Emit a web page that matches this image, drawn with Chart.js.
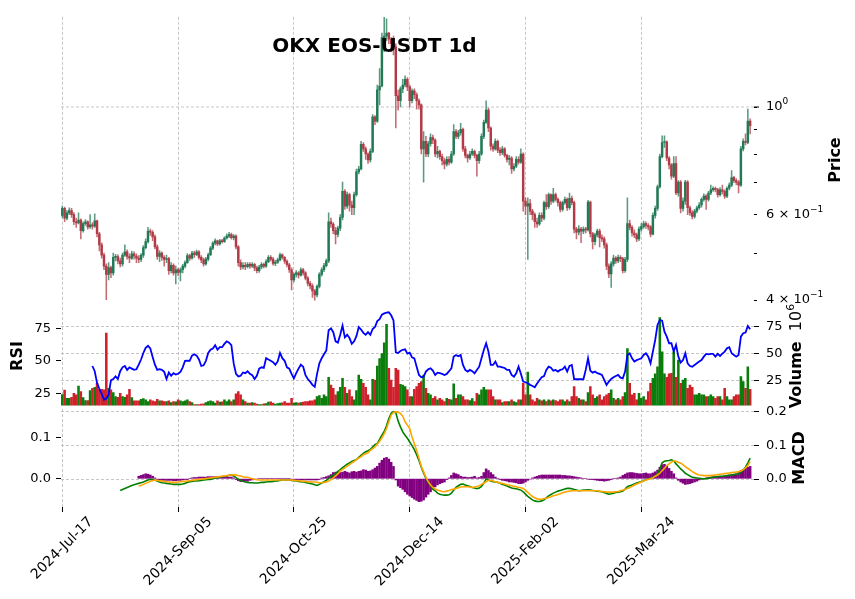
<!DOCTYPE html>
<html>
<head>
<meta charset="utf-8">
<style>
  html, body { margin: 0; padding: 0; background: #fff; }
  #wrap { position: relative; width: 855px; height: 599px; }
  #wrap canvas { position: absolute; left: 0; top: 0; }
</style>
</head>
<body>
<div id="wrap">
  <canvas id="priceChart" width="855" height="599"></canvas>
  <canvas id="volChart" width="855" height="599"></canvas>
  <canvas id="macdChart" width="855" height="599"></canvas>
</div>
<script src="https://cdn.jsdelivr.net/npm/chart.js@4.4.1/dist/chart.umd.min.js"></script>
<script>
// ---- data ----
const startDay = '2024-07-17';
const monthNames = ['Jan','Feb','Mar','Apr','May','Jun','Jul','Aug','Sep','Oct','Nov','Dec'];
const xTickIndex = [0, 50, 100, 150, 200, 250];
const priceTicks = [0.4, 0.5, 0.6, 0.7, 0.8, 0.9, 1];
// tick text as [base, superscript]
const priceTickText = { '0.4': ['4 \u00d7 10', '\u22121'], '0.6': ['6 \u00d7 10', '\u22121'], '1': ['10', '0'] };
const rsiTicks = [25, 50, 75];
const volTicks = [25, 50, 75];
const macdTicks = [0, 0.1, 0.2];
const histTicks = [0, 0.1];

const firstOpen = 0.598;
const closes = [
  .618,.590,.605,.612,.600,.580,.577,.585,.556,.575,
  .580,.566,.572,.568,.583,.548,.520,.495,.470,.452,
  .467,.455,.490,.492,.482,.475,.495,.503,.492,.488,
  .498,.493,.488,.485,.495,.513,.528,.555,.552,.540,
  .515,.492,.500,.490,.485,.487,.460,.472,.455,.462,
  .456,.462,.470,.478,.494,.488,.500,.496,.503,.490,
  .484,.475,.486,.496,.512,.524,.530,.522,.530,.528,
  .537,.542,.546,.538,.542,.515,.478,.468,.472,.469,
  .474,.470,.474,.466,.460,.468,.474,.470,.480,.490,
  .486,.476,.479,.484,.496,.490,.481,.473,.462,.440,
  .452,.455,.450,.462,.455,.444,.433,.428,.418,.410,
  .427,.452,.462,.471,.482,.580,.574,.556,.546,.563,
  .592,.670,.625,.660,.628,.620,.660,.735,.745,.838,
  .820,.800,.778,.810,.955,.935,1.085,1.105,1.390,1.400,
  1.420,1.380,1.350,1.330,1.055,1.030,1.090,1.110,1.140,1.100,
  1.030,1.080,1.060,1.030,1.010,.820,.850,.800,.840,.865,
  .855,.800,.810,.790,.775,.762,.780,.770,.800,.890,
  .870,.885,.900,.820,.795,.785,.800,.810,.795,.775,
  .800,.870,.930,.985,.905,.830,.820,.850,.815,.805,
  .820,.795,.780,.785,.745,.755,.780,.770,.800,.640,
  .625,.632,.610,.600,.580,.574,.598,.590,.635,.623,
  .660,.640,.660,.645,.635,.615,.635,.645,.620,.648,
  .635,.560,.552,.560,.555,.560,.558,.637,.548,.528,
  .545,.555,.538,.535,.520,.470,.453,.475,.488,.482,
  .490,.487,.460,.485,.575,.565,.550,.545,.535,.560,
  .567,.575,.570,.566,.547,.598,.618,.685,.790,.845,
  .848,.785,.760,.720,.765,.665,.700,.618,.640,.700,
  .620,.605,.595,.610,.620,.628,.645,.655,.645,.665,
  .675,.680,.676,.660,.675,.670,.655,.680,.690,.715,
  .705,.700,.690,.820,.850,.845,.935,.915
];
const highs = [
  .625,.622,.612,.620,.618,.606,.590,.605,.588,.580,
  .586,.583,.600,.578,.602,.585,.552,.525,.500,.475,
  .478,.470,.500,.497,.496,.488,.500,.520,.508,.498,
  .505,.503,.498,.494,.499,.518,.535,.565,.560,.556,
  .545,.520,.506,.503,.494,.495,.490,.478,.475,.470,
  .465,.466,.474,.482,.499,.497,.504,.505,.507,.506,
  .494,.488,.490,.500,.516,.528,.535,.532,.534,.534,
  .540,.548,.552,.550,.546,.545,.518,.484,.478,.478,
  .478,.478,.478,.476,.470,.472,.478,.477,.485,.494,
  .494,.490,.483,.488,.500,.498,.492,.484,.476,.466,
  .455,.460,.458,.466,.465,.458,.447,.437,.432,.421,
  .430,.456,.466,.476,.486,.605,.590,.578,.565,.568,
  .600,.700,.676,.668,.665,.640,.668,.745,.755,.850,
  .845,.828,.805,.820,.965,.960,1.110,1.200,1.420,1.530,
  1.520,1.425,1.390,1.400,1.350,1.083,1.100,1.140,1.160,1.150,
  1.110,1.090,1.090,1.070,1.040,1.015,.890,.870,.850,.880,
  .875,.860,.830,.815,.800,.785,.790,.790,.810,.920,
  .900,.895,.925,.905,.830,.800,.810,.820,.815,.800,
  .810,.880,.940,1.030,.995,.910,.840,.860,.855,.825,
  .830,.825,.800,.795,.790,.765,.790,.790,.820,.805,
  .650,.650,.645,.615,.605,.590,.605,.605,.640,.660,
  .665,.662,.680,.665,.650,.640,.640,.652,.650,.665,
  .655,.640,.565,.570,.565,.566,.565,.642,.640,.552,
  .550,.560,.560,.545,.540,.525,.475,.480,.495,.492,
  .495,.494,.490,.490,.650,.585,.570,.558,.550,.566,
  .575,.582,.580,.575,.570,.605,.625,.690,.800,.872,
  .872,.852,.790,.765,.790,.790,.705,.705,.650,.706,
  .705,.625,.612,.615,.625,.635,.650,.662,.660,.670,
  .690,.685,.684,.680,.682,.690,.675,.685,.698,.740,
  .720,.712,.705,.830,.860,.880,.990,.945
];
const lows = [
  .592,.580,.585,.600,.592,.572,.565,.574,.535,.552,
  .570,.560,.562,.560,.565,.540,.505,.488,.462,.401,
  .440,.445,.450,.482,.475,.468,.470,.492,.486,.478,
  .485,.486,.478,.478,.480,.490,.510,.524,.544,.530,
  .510,.485,.480,.483,.470,.478,.452,.455,.450,.432,
  .449,.438,.455,.466,.476,.483,.486,.490,.494,.486,
  .478,.470,.472,.482,.494,.508,.520,.518,.519,.524,
  .526,.534,.538,.534,.532,.510,.470,.462,.464,.462,
  .466,.465,.467,.460,.455,.456,.464,.466,.467,.478,
  .482,.472,.471,.476,.482,.486,.476,.468,.456,.420,
  .436,.446,.444,.448,.450,.440,.428,.422,.405,.400,
  .406,.424,.448,.458,.468,.478,.565,.548,.522,.540,
  .556,.585,.615,.618,.610,.600,.600,.655,.728,.742,
  .810,.780,.765,.770,.805,.920,.930,1.010,1.100,1.300,
  1.370,1.350,1.300,1.280,.905,.985,1.000,1.070,1.100,1.080,
  1.000,1.020,1.040,.990,.990,.800,.700,.790,.790,.830,
  .840,.790,.785,.780,.760,.745,.755,.760,.765,.795,
  .860,.860,.875,.810,.785,.770,.780,.795,.785,.720,
  .765,.795,.860,.925,.890,.815,.810,.815,.805,.795,
  .798,.788,.770,.760,.730,.738,.750,.762,.765,.610,
  .600,.485,.600,.585,.565,.565,.570,.580,.585,.615,
  .618,.630,.635,.640,.625,.608,.610,.630,.612,.615,
  .628,.550,.535,.545,.525,.548,.550,.555,.540,.510,
  .520,.540,.515,.528,.512,.462,.445,.425,.470,.476,
  .478,.480,.455,.456,.480,.558,.542,.538,.528,.530,
  .555,.562,.562,.558,.540,.545,.590,.612,.680,.785,
  .825,.775,.745,.710,.715,.660,.655,.605,.610,.630,
  .600,.598,.588,.590,.605,.615,.622,.640,.615,.640,
  .660,.670,.668,.652,.655,.662,.648,.650,.675,.685,
  .698,.692,.665,.686,.812,.835,.840,.880
];
// volume in units of 10^6
const volumes = [
  12.6,16.6,9.1,9.1,10.0,13.7,12.2,20.4,15.2,9.7,
  7.0,7.0,16.2,18.3,19.2,22.9,17.4,17.4,16.8,69.2,
  18.3,16.8,14.3,10.6,10.0,13.7,10.6,10.0,12.2,17.4,
  9.7,6.7,6.7,6.7,8.2,8.9,7.6,6.1,7.6,6.7,
  6.1,8.2,6.7,6.7,6.1,6.1,6.7,5.2,6.1,5.8,
  7.6,6.7,6.1,6.7,7.6,6.1,5.2,3.4,3.4,3.4,
  3.7,4.0,5.2,6.1,6.7,6.1,4.6,6.7,5.5,5.8,
  7.6,6.1,7.6,6.1,7.6,13.1,15.2,12.2,7.6,6.1,
  4.6,4.6,5.2,4.6,3.7,3.4,3.4,4.0,4.3,5.5,
  5.8,4.6,3.7,4.3,4.6,4.9,6.1,4.6,4.6,9.1,
  4.6,5.2,4.6,5.2,5.5,6.1,6.1,6.7,6.7,7.6,
  10.6,11.6,9.1,12.2,10.6,28.4,21.3,18.3,12.2,15.2,
  19.2,27.5,19.2,13.7,16.8,10.6,7.6,16.2,30.5,26.6,
  22.9,19.2,12.2,7.6,26.6,25.9,38.7,45.7,50.3,60.1,
  77.2,36.6,25.9,19.2,36.6,35.1,22.0,21.3,19.8,16.8,
  10.6,10.6,17.4,19.8,22.9,24.4,30.5,18.3,13.7,12.2,
  9.1,10.6,7.6,9.1,7.6,6.1,9.1,8.2,7.6,22.3,
  9.1,12.2,12.2,10.6,7.6,7.6,7.0,8.9,6.1,13.7,
  12.2,16.8,19.2,16.8,16.8,16.8,10.6,7.6,7.6,7.6,
  5.2,6.1,6.1,6.1,7.6,6.1,5.2,7.6,7.6,22.9,
  12.2,33.2,12.2,7.6,6.1,9.1,7.6,6.7,7.6,6.1,
  7.6,6.7,7.6,7.0,6.1,7.6,7.6,6.1,7.6,6.1,
  10.6,19.8,10.6,9.1,7.6,7.6,6.1,14.3,19.8,12.2,
  9.1,10.6,12.2,7.6,10.6,12.2,13.7,16.8,9.1,7.6,
  9.1,7.6,10.6,14.3,54.9,22.9,12.2,13.7,7.6,13.7,
  9.1,10.6,7.6,15.2,22.9,27.5,31.5,38.1,83.3,51.9,
  31.5,28.4,31.5,32.0,51.9,28.4,44.2,22.9,25.9,27.5,
  18.3,21.3,19.2,12.2,12.2,13.7,12.2,12.2,10.6,10.6,
  12.2,10.6,9.1,10.6,10.6,7.6,18.3,10.6,7.6,7.6,
  10.6,12.2,12.2,29.0,24.4,18.3,38.1,17.4
];
const rsi = [
  null,null,null,null,null,null,null,null,null,null,
  null,null,null,46,42,33,28.5,24.5,20,21,
  24,35,36,38,36,42,45,46,43,45,
  44,43,43.5,47,51,56,60,61.5,59.5,53,
  47,43,43.5,43,41.5,36,41,38.5,40.5,39.5,
  40,41.5,45,50,50.2,50,54,55,54,51,
  46,46.5,50,56,58.5,59.5,62,58.5,60.5,60.5,
  63,65,64,62,48,40,38,38.5,41,40.5,
  42,40,39,36,38.5,44,45,44.5,52,51,
  50,49,47,49.5,56,52,50,45,44,40,
  36.5,40.5,44,47,45.5,39,36,34,31.5,30,
  40,48,52,55,58,73.5,75,72,65,64,
  70,77,68,70,67.5,63,65,69,76,74,
  71.5,70,72,70,74.5,76,80.5,82,85.5,86.5,
  87,87.3,85,81,56.5,56,57.5,58.5,58.8,55.5,
  56.3,52.7,51.9,45.5,39.1,37.3,37.8,41.7,43.5,44.2,
  42.5,39.1,40.9,40.5,39.9,39.1,39.9,42,44.2,53.2,
  54.5,53.5,54.5,46.8,43,41.7,43,42,40.4,43,
  45.5,51.9,58.3,63.5,57.1,46.8,46.8,49.4,45.5,45.5,
  45,44.5,43,43,39.1,37.8,40.4,45.5,40,34,
  33.5,32.7,31.5,30.6,29.6,32.5,35,37.3,38.3,43,
  45.5,44.7,42.4,43,41.7,43,43.5,45.5,41.7,46,
  46.8,35.8,35.8,35.8,35.8,35.8,43,51.9,42.4,40.9,
  41.7,40.5,39.9,39.1,35.3,31.4,34,36,37.3,38.3,
  39.1,37,36.5,41.7,54.5,55.8,51.9,49.4,50.5,51.2,
  51.9,54.5,55.8,53.2,48.1,57.1,66,77.6,81.4,80.9,
  72.4,68.6,63.5,63.5,57.1,62.2,53.2,48.6,50.6,55.8,
  48.1,46,45.5,46.8,48.1,49.4,50.6,53.2,55.3,55,
  55.3,55.3,53.2,55.3,53.7,55.5,57.1,59.6,60.4,55.8,
  54.5,53.2,54.5,68.6,71.2,71.7,76.8,74.2
];
const macd = [
  null,null,null,null,null,null,null,null,null,null,
  null,null,null,null,null,null,null,null,null,null,
  null,null,null,null,null,-0.034,-0.031,-0.028,-0.025,-0.022,
  -0.019,-0.017,-0.015,-0.013,-0.011,-0.009,-0.006,-0.003,-0.001,-0.002,
  -0.003,-0.006,-0.009,-0.011,-0.012,-0.013,-0.014,-0.015,-0.016,-0.016,
  -0.016,-0.016,-0.015,-0.013,-0.010,-0.008,-0.007,-0.006,-0.006,-0.005,
  -0.004,-0.003,-0.002,-0.001,-0.001,0.001,0.003,0.004,0.005,0.007,
  0.008,0.009,0.011,0.012,0.009,0.004,-0.001,-0.004,-0.007,-0.009,
  -0.010,-0.011,-0.011,-0.012,-0.012,-0.011,-0.010,-0.010,-0.009,-0.008,
  -0.008,-0.007,-0.006,-0.006,-0.004,-0.003,-0.003,-0.003,-0.003,-0.004,
  -0.005,-0.006,-0.007,-0.008,-0.009,-0.010,-0.012,-0.013,-0.015,-0.017,
  -0.019,-0.016,-0.012,-0.008,-0.004,0.002,0.007,0.011,0.016,0.023,
  0.028,0.034,0.039,0.044,0.048,0.052,0.055,0.058,0.064,0.070,
  0.076,0.081,0.084,0.088,0.095,0.102,0.106,0.118,0.130,0.141,
  0.158,0.180,0.195,0.200,0.197,0.172,0.155,0.140,0.130,0.121,
  0.110,0.099,0.087,0.072,0.055,0.035,0.018,0.002,-0.010,-0.020,
  -0.030,-0.035,-0.042,-0.045,-0.047,-0.048,-0.048,-0.047,-0.042,-0.033,
  -0.025,-0.020,-0.016,-0.015,-0.018,-0.020,-0.022,-0.025,-0.027,-0.029,
  -0.027,-0.022,-0.012,0.000,-0.002,-0.006,-0.008,-0.009,-0.010,-0.013,
  -0.016,-0.018,-0.021,-0.024,-0.027,-0.028,-0.029,-0.031,-0.033,-0.038,
  -0.045,-0.052,-0.057,-0.062,-0.065,-0.067,-0.067,-0.065,-0.062,-0.056,
  -0.050,-0.046,-0.042,-0.039,-0.036,-0.034,-0.032,-0.030,-0.028,-0.028,
  -0.029,-0.031,-0.033,-0.035,-0.034,-0.033,-0.033,-0.032,-0.033,-0.034,
  -0.035,-0.036,-0.037,-0.038,-0.040,-0.043,-0.045,-0.044,-0.042,-0.040,
  -0.039,-0.038,-0.036,-0.030,-0.023,-0.020,-0.018,-0.015,-0.012,-0.010,
  -0.008,-0.005,-0.002,0.000,0.002,0.005,0.009,0.016,0.030,0.048,
  0.053,0.054,0.055,0.057,0.054,0.045,0.038,0.030,0.024,0.017,
  0.013,0.009,0.005,0.004,0.003,0.002,0.001,0.000,0.001,0.002,
  0.004,0.005,0.006,0.007,0.008,0.008,0.009,0.010,0.011,0.012,
  0.013,0.014,0.015,0.020,0.027,0.035,0.048,0.062
];
const signal = [
  null,null,null,null,null,null,null,null,null,null,
  null,null,null,null,null,null,null,null,null,null,
  null,null,null,null,null,null,null,null,null,null,
  null,null,null,-0.021,-0.019,-0.016,-0.013,-0.010,-0.007,-0.005,
  -0.003,-0.004,-0.005,-0.006,-0.007,-0.008,-0.009,-0.010,-0.010,-0.010,
  -0.009,-0.008,-0.007,-0.007,-0.006,-0.005,-0.004,-0.003,-0.002,-0.001,
  0.000,0.000,0.001,0.002,0.003,0.004,0.005,0.006,0.007,0.008,
  0.009,0.010,0.011,0.012,0.013,0.012,0.010,0.009,0.007,0.005,
  0.005,0.003,0.001,-0.001,-0.002,-0.003,-0.003,-0.003,-0.003,-0.003,
  -0.003,-0.003,-0.003,-0.003,-0.003,-0.003,-0.003,-0.003,-0.003,-0.003,
  -0.004,-0.005,-0.005,-0.006,-0.007,-0.007,-0.008,-0.008,-0.009,-0.009,
  -0.010,-0.011,-0.011,-0.010,-0.009,-0.006,-0.002,0.003,0.009,0.015,
  0.024,0.028,0.033,0.038,0.043,0.048,0.052,0.058,0.062,0.066,
  0.072,0.075,0.078,0.085,0.090,0.095,0.104,0.112,0.122,0.135,
  0.150,0.170,0.190,0.198,0.200,0.198,0.195,0.187,0.170,0.160,
  0.150,0.125,0.105,0.085,0.062,0.038,0.022,0.005,-0.008,-0.018,
  -0.025,-0.030,-0.033,-0.035,-0.037,-0.038,-0.036,-0.034,-0.031,-0.030,
  -0.028,-0.026,-0.024,-0.023,-0.023,-0.023,-0.024,-0.025,-0.024,-0.022,
  -0.020,-0.016,-0.012,-0.008,-0.004,-0.004,-0.006,-0.008,-0.010,-0.012,
  -0.013,-0.015,-0.017,-0.018,-0.020,-0.022,-0.023,-0.025,-0.026,-0.028,
  -0.033,-0.040,-0.046,-0.052,-0.056,-0.059,-0.060,-0.060,-0.058,-0.057,
  -0.055,-0.053,-0.050,-0.048,-0.046,-0.044,-0.041,-0.039,-0.037,-0.036,
  -0.035,-0.035,-0.035,-0.035,-0.035,-0.035,-0.035,-0.035,-0.035,-0.035,
  -0.035,-0.035,-0.036,-0.037,-0.038,-0.039,-0.039,-0.039,-0.039,-0.038,
  -0.037,-0.035,-0.033,-0.031,-0.028,-0.025,-0.022,-0.018,-0.015,-0.012,
  -0.009,-0.006,-0.003,-0.001,0.001,0.004,0.008,0.012,0.017,0.025,
  0.032,0.040,0.045,0.050,0.054,0.053,0.050,0.047,0.043,0.037,
  0.032,0.027,0.022,0.018,0.014,0.012,0.011,0.010,0.010,0.010,
  0.010,0.011,0.012,0.013,0.014,0.015,0.016,0.017,0.018,0.019,
  0.020,0.021,0.022,0.024,0.028,0.033,0.040,0.052
];
const hist = [
  null,null,null,null,null,null,null,null,null,null,
  null,null,null,null,null,null,null,null,null,null,
  null,null,null,null,null,null,null,null,null,null,
  null,null,null,0.006,0.008,0.010,0.012,0.011,0.009,0.006,
  0.002,-0.002,-0.003,-0.004,-0.004,-0.004,-0.004,-0.004,-0.005,-0.005,
  -0.004,-0.004,-0.003,-0.002,-0.002,0.001,0.002,0.003,0.003,0.004,
  0.004,0.004,0.004,0.005,0.005,0.005,0.005,0.005,0.005,0.005,
  0.005,0.005,0.004,0.004,0.002,-0.002,-0.005,-0.007,-0.007,-0.006,
  -0.006,-0.004,-0.003,-0.002,-0.001,0.001,0.001,0.001,0.001,0.001,
  0.001,0.001,0.001,0.001,0.001,0.001,0.001,0.001,0.001,-0.001,
  -0.002,-0.002,-0.002,-0.003,-0.003,-0.003,-0.003,-0.003,-0.003,-0.003,
  -0.003,-0.002,0.002,0.003,0.005,0.007,0.010,0.015,0.016,0.017,
  0.015,0.016,0.018,0.016,0.014,0.017,0.018,0.016,0.018,0.019,
  0.022,0.021,0.018,0.019,0.022,0.026,0.030,0.038,0.045,0.050,
  0.052,0.048,0.040,0.030,-0.003,-0.018,-0.022,-0.026,-0.032,-0.038,
  -0.042,-0.046,-0.050,-0.053,-0.056,-0.055,-0.052,-0.045,-0.038,-0.032,
  -0.025,-0.020,-0.015,-0.012,-0.010,-0.008,-0.002,0.002,0.008,0.014,
  0.012,0.010,0.006,0.004,0.004,0.003,0.003,0.004,0.006,0.002,
  0.003,0.006,0.015,0.024,0.020,0.015,0.010,0.004,0.001,-0.002,
  -0.004,-0.005,-0.006,-0.008,-0.008,-0.009,-0.010,-0.012,-0.012,-0.011,
  -0.008,-0.004,-0.001,0.002,0.004,0.006,0.008,0.009,0.009,0.009,
  0.009,0.009,0.009,0.009,0.009,0.009,0.008,0.008,0.007,0.007,
  0.006,0.005,0.004,0.003,0.002,0.001,0.000,-0.001,-0.002,-0.002,
  -0.003,-0.004,-0.005,-0.005,-0.006,-0.005,-0.004,-0.002,0.000,0.001,
  0.002,0.004,0.008,0.011,0.014,0.015,0.015,0.014,0.013,0.012,
  0.012,0.013,0.014,0.012,0.012,0.014,0.017,0.021,0.028,0.034,
  0.035,0.032,0.025,0.018,0.012,0.002,-0.004,-0.008,-0.011,-0.014,
  -0.013,-0.012,-0.010,-0.008,-0.006,-0.003,-0.001,0.001,0.002,0.003,
  0.004,0.005,0.005,0.005,0.006,0.006,0.007,0.008,0.009,0.010,
  0.011,0.012,0.015,0.020,0.023,0.026,0.028,0.030
];

// ---- derived helpers ----
const dates = closes.map((_, i) => {
  const d = new Date(Date.parse(startDay + 'T00:00:00Z') + i * 86400000);
  return d.getUTCFullYear() + '-' + monthNames[d.getUTCMonth()] + '-' + String(d.getUTCDate()).padStart(2, '0');
});
const opens = closes.map((c, i) => (i === 0 ? firstOpen : closes[i - 1]));
const isUp = closes.map((c, i) => c >= opens[i]);

// ---- layout / style ----
const W = 855, H = 599;
const L = 61, R = 754;               // plot area left / right (px)
const X0 = 62.3, DX = 2.316;         // pixel of first candle, px per day
const MACD_BOTTOM = 507;
const gridColor = '#b9b9b9';
const FONT = '"DejaVu Sans", "Liberation Sans", sans-serif';
const TICK_PX = 13;
const X_TICK_PX = 14;
Chart.defaults.font.family = FONT;
Chart.defaults.color = '#000';

const upBody = '#217a55', downBody = '#b23a46';
const upWick = 'rgba(33,122,85,0.75)', downWick = 'rgba(178,58,70,0.75)';
const upVol = '#0a7d0a', downVol = '#d0202a';

function xScale(showTicks) {
  return {
    type: 'linear',
    min: (L - X0) / DX,
    max: (R - X0) / DX,
    offset: false,
    afterBuildTicks: s => { s.ticks = xTickIndex.map(v => ({ value: v })); },
    grid: { offset: false, color: gridColor, lineWidth: 0.8, drawTicks: showTicks, tickLength: 5, tickColor: '#000', tickWidth: 1 },
    border: { display: false, dash: [3, 2] },
    ticks: { display: false },
    afterFit: s => { s.height = 0; }
  };
}

function yScale(opts) {
  return {
    type: opts.type || 'linear',
    position: opts.position,
    min: opts.min, max: opts.max,
    afterBuildTicks: s => { s.ticks = opts.ticks.map(v => ({ value: v })); },
    grid: {
      drawOnChartArea: !!opts.grid,
      color: opts.gridColor || gridColor,
      lineWidth: 0.8,
      tickLength: opts.tickLength || 5,
      tickColor: '#000', tickWidth: 1
    },
    border: { display: false, dash: [3, 2] },
    ticks: { font: { size: TICK_PX }, color: '#000', padding: opts.padding || 6, callback: opts.fmt },
    afterFit: s => { s.width = opts.width; }
  };
}

// text with an optional mathtext-like superscript
function drawParts(ctx, parts, align) {
  let total = 0;
  parts.forEach(p => { ctx.font = p.font; total += ctx.measureText(p.text).width; });
  let x = align === 'left' ? 0 : -total / 2;
  parts.forEach(p => {
    ctx.font = p.font;
    ctx.fillText(p.text, x, p.dy || 0);
    x += ctx.measureText(p.text).width;
  });
}

function textPlugin(items) {
  return {
    id: 'panelText',
    afterDraw(chart) {
      const ctx = chart.ctx;
      items.forEach(it => {
        ctx.save();
        ctx.translate(it.x, it.y);
        ctx.rotate(it.rotate || 0);
        ctx.textBaseline = 'middle';
        ctx.textAlign = 'left';
        ctx.fillStyle = '#000';
        drawParts(ctx, it.parts, 'center');
        ctx.restore();
      });
    }
  };
}

// date labels rotated 45 degrees, bounding box centred under each tick
const xLabelPlugin = {
  id: 'xLabels',
  afterDraw(chart) {
    const ctx = chart.ctx, sx = chart.scales.x, bottom = chart.chartArea.bottom;
    ctx.save();
    ctx.font = X_TICK_PX + 'px ' + FONT;
    ctx.fillStyle = '#000'; ctx.textAlign = 'center'; ctx.textBaseline = 'middle';
    xTickIndex.forEach(i => {
      const text = dates[i];
      const w = ctx.measureText(text).width;
      const box = (w + X_TICK_PX * 1.16) * Math.SQRT1_2;
      ctx.save();
      ctx.translate(sx.getPixelForValue(i), bottom + 7 + box / 2);
      ctx.rotate(-Math.PI / 4);
      ctx.fillText(text, 0, 0);
      ctx.restore();
    });
    ctx.restore();
  }
};

const boldLabel = 'bold 16px ' + FONT;
const commonOpts = {
  responsive: false, animation: false, events: [],
  plugins: { legend: { display: false }, tooltip: { enabled: false } }
};

// ---- price panel ----
new Chart(document.getElementById('priceChart'), {
  type: 'bar',
  data: {
    datasets: [
      {
        data: closes.map((c, i) => ({ x: i, y: [opens[i], c] })),
        backgroundColor: isUp.map(u => (u ? upBody : downBody)),
        barThickness: 1.8, minBarLength: 1, grouped: false
      },
      {
        data: closes.map((c, i) => ({ x: i, y: [Math.min(lows[i], opens[i], c), Math.max(highs[i], opens[i], c)] })),
        backgroundColor: isUp.map(u => (u ? upWick : downWick)),
        barThickness: 0.9, grouped: false
      }
    ]
  },
  options: Object.assign({}, commonOpts, {
    layout: { padding: { left: L, right: 0, top: 12, bottom: H - 307 } },
    scales: {
      x: xScale(false),
      y: yScale({
        type: 'logarithmic', position: 'right', min: 0.3871, max: 1.5343, ticks: priceTicks,
        width: W - R, tickLength: 3, padding: 9, fmt: () => ''
      })
    }
  }),
  plugins: [textPlugin([
    { x: 374.5, y: 47, parts: [{ text: 'OKX EOS-USDT 1d', font: 'bold 20px ' + FONT }] },
    { x: 836, y: 160, rotate: -Math.PI / 2, parts: [{ text: 'Price', font: boldLabel }] }
  ]), {
    id: 'priceAxisExtras',
    beforeDatasetsDraw(chart) {
      // horizontal grid line only at the major (decade) tick, with a longer tick mark
      const y = chart.scales.y.getPixelForValue(1);
      const ctx = chart.ctx;
      ctx.save();
      ctx.strokeStyle = gridColor; ctx.lineWidth = 0.8; ctx.setLineDash([3, 2]);
      ctx.beginPath(); ctx.moveTo(chart.chartArea.left, y); ctx.lineTo(chart.chartArea.right, y); ctx.stroke();
      ctx.setLineDash([]); ctx.strokeStyle = '#000'; ctx.lineWidth = 1;
      ctx.beginPath(); ctx.moveTo(chart.chartArea.right, y); ctx.lineTo(chart.chartArea.right + 5, y); ctx.stroke();
      ctx.restore();
    },
    afterDraw(chart) {
      // log-axis tick labels with real superscripts
      const ctx = chart.ctx, sc = chart.scales.y;
      ctx.save();
      ctx.fillStyle = '#000'; ctx.textBaseline = 'middle';
      Object.keys(priceTickText).forEach(k => {
        const [base, sup] = priceTickText[k];
        const y = sc.getPixelForValue(Number(k));
        ctx.save();
        ctx.translate(chart.chartArea.right + 12, y);
        drawParts(ctx, [
          { text: base, font: TICK_PX + 'px ' + FONT },
          { text: sup, font: Math.round(TICK_PX * 0.7) + 'px ' + FONT, dy: -5 }
        ], 'left');
        ctx.restore();
      });
      ctx.restore();
    }
  }]
});

// ---- volume + RSI panel ----
new Chart(document.getElementById('volChart'), {
  type: 'bar',
  data: {
    datasets: [
      {
        type: 'line', yAxisID: 'yr',
        data: rsi.map((v, i) => ({ x: i, y: v })),
        borderColor: '#0000ff', borderWidth: 1.8, pointRadius: 0, tension: 0, spanGaps: false
      },
      {
        type: 'bar', yAxisID: 'yv',
        data: volumes.map((v, i) => ({ x: i, y: v })),
        backgroundColor: isUp.map(u => (u ? upVol : downVol)),
        barThickness: 1.9
      }
    ]
  },
  options: Object.assign({}, commonOpts, {
    layout: { padding: { left: 0, right: 0, top: 307, bottom: H - 405.5 } },
    scales: {
      x: xScale(false),
      yv: yScale({ position: 'right', min: 2.44, max: 93.14, ticks: volTicks, grid: true, width: W - R, padding: 7, fmt: v => String(v) }),
      yr: yScale({ position: 'left', min: 15.62, max: 91.38, ticks: rsiTicks, width: L, padding: 5, fmt: v => String(v) })
    }
  }),
  plugins: [textPlugin([
    { x: 18, y: 356, rotate: -Math.PI / 2, parts: [{ text: 'RSI', font: boldLabel }] },
    { x: 797, y: 356, rotate: -Math.PI / 2, parts: [
      { text: 'Volume', font: boldLabel },
      { text: '  10', font: '16px ' + FONT },
      { text: '6', font: '11px ' + FONT, dy: -6 }
    ] }
  ])]
});

// ---- MACD panel ----
new Chart(document.getElementById('macdChart'), {
  type: 'bar',
  data: {
    datasets: [
      {
        type: 'line', yAxisID: 'y',
        data: signal.map((v, i) => ({ x: i, y: v })),
        borderColor: '#ffa500', borderWidth: 1.6, pointRadius: 0, tension: 0
      },
      {
        type: 'line', yAxisID: 'y',
        data: macd.map((v, i) => ({ x: i, y: v })),
        borderColor: '#008000', borderWidth: 1.6, pointRadius: 0, tension: 0
      },
      {
        type: 'bar', yAxisID: 'yh',
        data: hist.map((v, i) => ({ x: i, y: v })),
        backgroundColor: '#800080', barThickness: 1.9
      }
    ]
  },
  options: Object.assign({}, commonOpts, {
    layout: { padding: { left: 0, right: 0, top: 409, bottom: H - MACD_BOTTOM } },
    scales: {
      x: xScale(true),
      y: yScale({ position: 'right', min: -0.0832, max: 0.208, ticks: macdTicks, grid: true, width: W - R, padding: 7, fmt: v => v.toFixed(1) }),
      yh: yScale({ position: 'left', min: -0.069, max: 0.170, ticks: histTicks, width: L, padding: 5, fmt: v => v.toFixed(1) })
    }
  }),
  plugins: [xLabelPlugin, textPlugin([
    { x: 800, y: 458, rotate: -Math.PI / 2, parts: [{ text: 'MACD', font: boldLabel }] }
  ])]
});
</script>
</body>
</html>
